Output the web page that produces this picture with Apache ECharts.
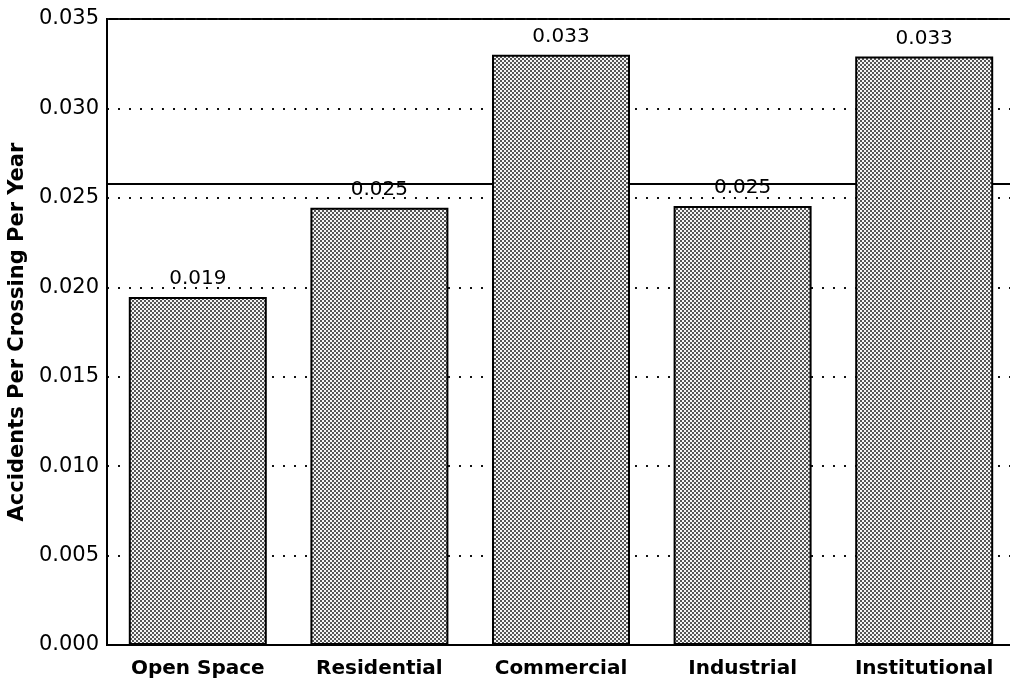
<!DOCTYPE html>
<html>
<head>
<meta charset="utf-8">
<title>Accidents Per Crossing Per Year</title>
<script src="https://cdn.jsdelivr.net/npm/echarts@6/dist/echarts.min.js"></script>
<style>
  html, body { margin: 0; padding: 0; background: #fff; }
  #chart { width: 1010px; height: 684px; }
</style>
</head>
<body>
<div id="chart"></div>
<script>
const categories = ["Open Space", "Residential", "Commercial", "Industrial", "Institutional"];
const accidentRates = [0.01945, 0.02445, 0.0330, 0.02455, 0.0329];
const rateLabels = ["0.019", "0.025", "0.033", "0.025", "0.033"];
const referenceRate = 0.0258;
const yMin = 0;
const yMax = 0.035;
const yStep = 0.005;

// stippled grey fill like the scanned bars
const makeDots = () => {
  const c = document.createElement("canvas");
  c.width = 4;
  c.height = 4;
  const ctx = c.getContext("2d");
  ctx.fillStyle = "#f4f4f4";
  ctx.fillRect(0, 0, 4, 4);
  ctx.fillStyle = "#555";
  ctx.fillRect(0, 0, 2, 2);
  ctx.fillRect(2, 2, 2, 2);
  return c;
};

const font = "DejaVu Sans";
const chart = echarts.init(document.getElementById("chart"));
const option = {
  backgroundColor: "#fff",
  animation: false,
  grid: {
    left: 107,
    top: 19,
    width: 908,
    height: 626,
    outerBoundsMode: "none", // plot runs past the right edge like the scan
    show: true,
    backgroundColor: "#fff",
    borderColor: "#000",
    borderWidth: 2,
  },
  xAxis: {
    type: "category",
    data: categories,
    axisLine: { lineStyle: { color: "#000", width: 2 } },
    axisTick: { show: false },
    axisLabel: {
      color: "#000",
      fontFamily: font,
      fontWeight: "bold",
      fontSize: 20,
      margin: 14,
    },
  },
  yAxis: {
    type: "value",
    min: yMin,
    max: yMax,
    interval: yStep,
    name: "Accidents Per Crossing Per Year",
    nameLocation: "middle",
    nameGap: 78,
    nameTextStyle: {
      color: "#000",
      fontFamily: font,
      fontWeight: "bold",
      fontSize: 21,
    },
    axisLine: { show: true, lineStyle: { color: "#000", width: 2 } },
    axisTick: { show: false },
    axisLabel: {
      color: "#000",
      fontFamily: font,
      fontSize: 21,
      margin: 8,
      formatter: (v) => v.toFixed(3),
    },
    splitLine: {
      show: true,
      lineStyle: { color: "#111", width: 2, type: [2, 9] },
    },
  },
  series: [
    {
      type: "bar",
      data: accidentRates,
      z: 3,
      barWidth: 138,
      itemStyle: {
        color: { image: makeDots(), repeat: "repeat" },
        borderColor: "#000",
        borderWidth: 2,
      },
      label: {
        show: true,
        position: "top",
        distance: 8,
        color: "#000",
        fontFamily: font,
        fontSize: 20,
        formatter: (p) => rateLabels[p.dataIndex],
      },
      markLine: {
        z: 1,
        precision: 5, // default rounds to 2 decimals
        symbol: "none",
        silent: true,
        label: { show: false },
        lineStyle: { color: "#000", width: 2, type: "solid" },
        data: [{ yAxis: referenceRate }],
      },
    },
  ],
};
chart.setOption(option);
</script>
</body>
</html>
